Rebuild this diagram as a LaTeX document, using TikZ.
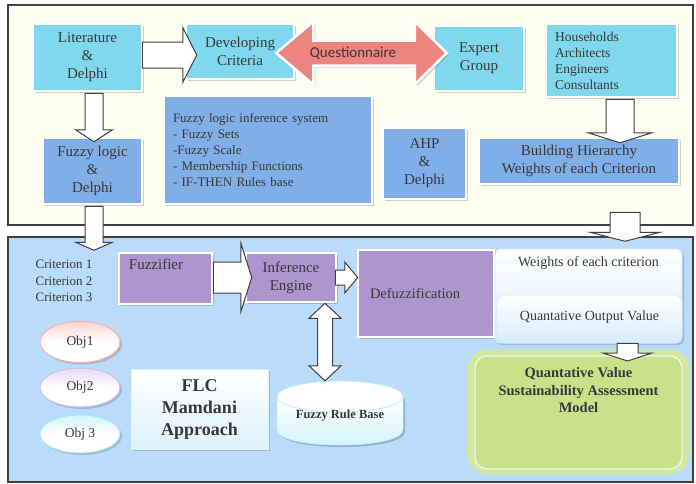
\documentclass[tikz,border=0pt]{standalone}
\usepackage{fontspec}
\setmainfont{Liberation Serif}
\newfontfamily\qfont{Carlito}
\usetikzlibrary{calc,shadows,shapes.geometric}
\definecolor{txt}{HTML}{383838}
\definecolor{cream}{HTML}{FEFEF0}
\definecolor{lblue}{HTML}{BADCFA}
\definecolor{cyanc}{HTML}{80D8EE}
\definecolor{bluec}{HTML}{80AEE6}
\definecolor{purp}{HTML}{AE95CE}
\definecolor{redc}{HTML}{EC847F}
\definecolor{greenc}{HTML}{C8E28A}
\definecolor{greenb}{HTML}{D3E89C}
\definecolor{framec}{HTML}{404040}
\definecolor{cylb}{HTML}{BDEFF7}
\definecolor{cylf}{HTML}{CFF3FA}
\definecolor{pinkb}{HTML}{F4B4B0}
\definecolor{pinkf}{HTML}{FAD3D0}
\definecolor{lavb}{HTML}{D2BCEA}
\definecolor{lavf}{HTML}{E6D8F4}
\definecolor{cyb}{HTML}{A6ECF6}
\definecolor{cyf}{HTML}{D0F5FB}
\definecolor{wblue}{HTML}{D6ECFB}
\definecolor{flcb}{HTML}{DCF2FC}
\newcommand\harr[5]{\draw[barrow] let \p1=#1, \p2=#2 in (\x1,\y1+#3) -- (\x2-#5,\y1+#3) -- (\x2-#5,\y1+#4) -- (\x2,\y1) -- (\x2-#5,\y1-#4) -- (\x2-#5,\y1-#3) -- (\x1,\y1-#3) -- cycle;}
\newcommand\varr[5]{\draw[barrow] let \p1=#1, \p2=#2 in (\x1-#3,\y1) -- (\x1-#3,\y2+#5) -- (\x1-#4,\y2+#5) -- (\x1,\y2) -- (\x1+#4,\y2+#5) -- (\x1+#3,\y2+#5) -- (\x1+#3,\y1) -- cycle;}
\newcommand\dvarr[5]{\draw[barrow] let \p1=#1, \p2=#2 in (\x1,\y1) -- (\x1+#4,\y1-#5) -- (\x1+#3,\y1-#5) -- (\x1+#3,\y2+#5) -- (\x1+#4,\y2+#5) -- (\x1,\y2) -- (\x1-#4,\y2+#5) -- (\x1-#3,\y2+#5) -- (\x1-#3,\y1-#5) -- (\x1-#4,\y1-#5) -- cycle;}
\newcommand\dharr[7]{\draw[#1] let \p1=#2, \p2=#3 in (\x1,\y1) -- (\x1+#6,\y1+#5) -- (\x1+#6,\y1+#4) -- (\x2-#7,\y1+#4) -- (\x2-#7,\y1+#5) -- (\x2,\y1) -- (\x2-#7,\y1-#5) -- (\x2-#7,\y1-#4) -- (\x1+#6,\y1-#4) -- (\x1+#6,\y1-#5) -- cycle;}
\begin{document}
\begin{tikzpicture}[x=1pt,y=-1pt,
  frame/.style={draw=framec, line width=1.5pt, inner sep=0pt},
  dims/.style 2 args={minimum width=#1, minimum height=#2},
  shad/.style={drop shadow={shadow xshift=2pt, shadow yshift=-2pt, opacity=0.3, fill=black!60}},
  box/.style={draw=white, line width=2.5pt, text=txt, align=center, inner sep=2pt, shad},
  bigtxt/.style={font=\fontsize{15}{18}\selectfont},
  cyanbox/.style={box, fill=cyanc, bigtxt},
  bluebox/.style={box, fill=bluec, bigtxt},
  purpbox/.style={box, fill=purp, bigtxt},
  barrow/.style={draw=framec, fill=white, line width=1pt, line join=miter},
  objell/.style={ellipse, dims={80}{#1}, line width=1pt, text=txt, font=\fontsize{13.5}{16}\selectfont, shad},
  plain/.style={text=txt, inner sep=0pt}
]
\useasboundingbox (0,0) rectangle (696,483);
\fill[white] (0,0) rectangle (696,483);

% frames
\node[frame, fill=cream, dims={685}{220}] (topf) at (350.5,115) {};
\node[frame, fill=lblue, dims={685}{245}] (botf) at (350.5,359.5) {};

% top boxes
\node[cyanbox, dims={109}{67}] (lit) at (87.5,57.5) {Literature\\\&\\Delphi};
\node[cyanbox, dims={108}{55}] (dev) at (240,51.5) {Developing\\Criteria};
\node[cyanbox, dims={90}{65}] (expert) at (479,58.5) {Expert\\Group};
\node[cyanbox, dims={131}{73}, font=\fontsize{13.5}{16}\selectfont, text width=113, align=left] (house) at (611.5,60.5) {Households\\Architects\\Engineers\\Consultants};
\node[bluebox, dims={99}{66}] (fld) at (92.5,171) {Fuzzy logic\\\&\\Delphi};
\node[bluebox, dims={208}{108}, font=\fontsize{13}{16}\selectfont, text width=190, align=left] (fis) at (268,150) {Fuzzy logic inference system\\- Fuzzy Sets\\-Fuzzy Scale\\- Membership Functions\\- IF-THEN Rules base};
\node[bluebox, dims={83}{71}] (ahp) at (424.5,163.5) {AHP\\\&\\Delphi};
\node[bluebox, dims={200}{46}] (build) at (579,161) {Building Hierarchy\\Weights of each Criterion};

% top arrows
\harr{($(lit.east)+(-1,-2.5)$)}{($(dev.west)+(12,0)$)}{13}{27.5}{14}
\dharr{fill=redc, draw=white, line width=2.5pt, line join=miter, shad}{($(dev.east)+(-19,1.5)$)}{($(expert.west)+(14,0)$)}{12.5}{31.5}{37}{32}
\node[plain, font=\qfont\fontsize{15}{18}\selectfont] (qt) at ($(dev.east)!0.5!(expert.west)+(-11,-2)$) {Questionnaire};
\varr{($(lit.south)+(6.5,1)$)}{($(fld.north)+(1.5,5)$)}{9}{18.5}{12}
\varr{($(house.south)+(8.5,1)$)}{($(build.north)+(0,6)$)}{14}{32}{10}

% lower boxes
\node[plain, align=left, font=\fontsize{13}{16.5}\selectfont] (crit) at (64,281) {Criterion 1\\Criterion 2\\Criterion 3};
\node[purpbox, dims={93}{51}, label={[anchor=north west, inner sep=0pt, xshift=11, yshift=-7, text=txt, font=\fontsize{15}{18}\selectfont]north west:Fuzzifier}] (fuzz) at (165.5,278.5) {};
\node[purpbox, dims={90}{49}] (inf) at (291,277.5) {Inference\\Engine};
\node[purpbox, dims={136}{87}, font=\fontsize{14.5}{18}\selectfont, text width=112, align=left] (defz) at (426,293.5) {\raisebox{-4pt}{Defuzzification}};
\node[draw=wblue, line width=0.8pt, rounded corners=6, top color=white, bottom color=wblue, dims={187}{94}, shad, label={[anchor=north, yshift=-5, text=txt, font=\fontsize{14}{17}\selectfont]north:Weights of each criterion}] (wts) at (588.5,296) {};
\node[draw=wblue, line width=0.8pt, rounded corners=8, top color=white, bottom color=wblue, dims={185}{48}, text=txt, font=\fontsize{14}{17}\selectfont] (qov) at (589.5,319) {\raisebox{7pt}{Quantative Output Value}};

\node[fill=greenc, draw=greenb, line width=6pt, rounded corners=16, dims={215}{118}, text=txt, font=\bfseries\fontsize{14.5}{17.5}\selectfont, align=center, label={[anchor=north, yshift=-14, text=txt, font=\bfseries\fontsize{14.5}{17.5}\selectfont, align=center]north:Quantative Value\\Sustainability Assessment\\Model}] (green) at (578.5,412) {};
\draw[white!70!cyb, line width=1.3pt, rounded corners=12] ($(green.north west)+(7,6)$) rectangle ($(green.south east)+(-7,-5)$);

\node[draw=flcb, line width=0.6pt, top color=white, bottom color=flcb, dims={137}{80}, text=txt, align=center, font=\bfseries\fontsize{18}{22}\selectfont, shad] (flc) at (199.5,409) {FLC\\Mamdani\\Approach};

\node[objell={41}, draw=pinkb, top color=pinkf, bottom color=white, middle color=white] (o1) at (80,342) {Obj1};
\node[objell={39}, draw=lavb, top color=lavf, bottom color=white, middle color=white] (o2) at (80,387.5) {Obj2};
\node[objell={38}, draw=cyb, top color=cyf, bottom color=white, middle color=white] (o3) at (80,434) {Obj 3};

% cylinder
\coordinate (frbc) at (340,413);
\begin{scope}[shift={(frbc)}]
  \fill[black, opacity=0.2] (-61,-14.5) -- (-61,18.5) .. controls (-61,39.2) and (65,39.2) .. (65,18.5) -- (65,-14.5) -- cycle;
  \shade[top color=white, bottom color=cylf] (-63,-16.5) -- (-63,16.5) .. controls (-63,37.2) and (63,37.2) .. (63,16.5) -- (63,-16.5) -- cycle;
  \draw[cylb, line width=0.8pt] (-63,-16.5) -- (-63,16.5) .. controls (-63,37.2) and (63,37.2) .. (63,16.5) -- (63,-16.5);
  \draw[cylb, line width=0.8pt, fill=white] (0,-16.5) ellipse [x radius=63, y radius=15.5];
\end{scope}
\node[plain, dims={126}{64}, font=\bfseries\fontsize{12.5}{15}\selectfont] (frb) at (frbc) {\raisebox{-14pt}{Fuzzy Rule Base}};

% lower arrows
\varr{($(fld.south)+(1.5,1)$)}{($(botf.north)+(0,14)$)}{9}{18.5}{8}
\varr{($(build.south)+(46,27)$)}{($(botf.north)+(0,5)$)}{15}{35}{9}
\harr{($(fuzz.east)+(0,-1)$)}{($(inf.west)+(7,0)$)}{15.5}{34.5}{11}
\harr{($(inf.east)+(-2,0)$)}{($(defz.west)+(1,0)$)}{7.5}{15.5}{13}
\dvarr{($(inf.south)+(34,0)$)}{(frb.north)}{7.5}{16}{15}
\varr{($(qov.south)+(38,0)$)}{($(green.north)+(0,11)$)}{10.5}{24.5}{8}
\end{tikzpicture}
\end{document}
